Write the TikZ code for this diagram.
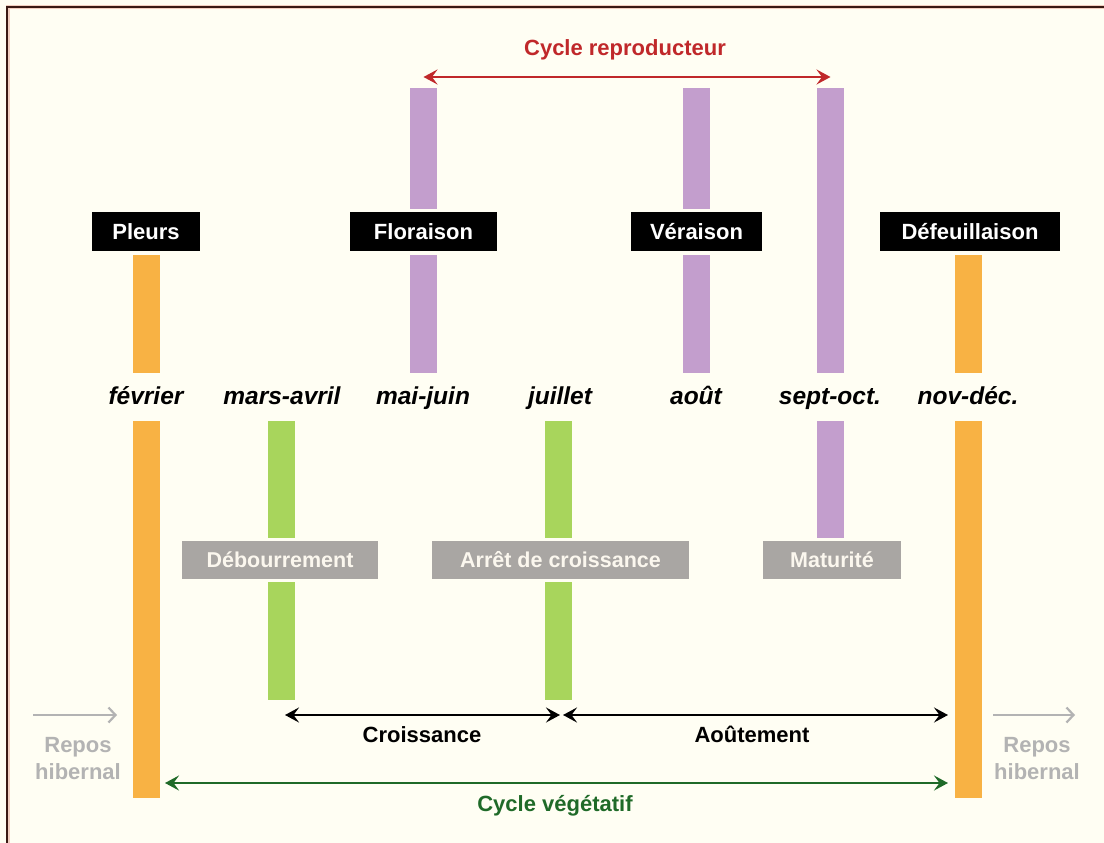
\documentclass[tikz,border=0pt]{standalone}
\usepackage{fontspec}
\setmainfont{Liberation Sans}
\usetikzlibrary{arrows.meta}
\definecolor{bg}{HTML}{FFFEF3}
\definecolor{framec}{HTML}{3A1A14}
\definecolor{frameh}{HTML}{F2CFC0}
\definecolor{orangec}{HTML}{F8B244}
\definecolor{purplec}{HTML}{C39ECD}
\definecolor{greenc}{HTML}{A8D55C}
\definecolor{grayboxc}{HTML}{A9A6A3}
\definecolor{grayboxt}{HTML}{FBF7EE}
\definecolor{redc}{HTML}{C0282A}
\definecolor{dgreenc}{HTML}{1F6A28}
\definecolor{grayt}{HTML}{B3B3B3}
\tikzset{
  bar/.style={inner sep=0pt, minimum width=27pt, anchor=north},
  blackbox/.style={fill=black, text=white, font=\bfseries\fontsize{22}{22}\selectfont,
    minimum height=39pt, inner sep=0pt, text height=16pt, text depth=0pt,
    preaction={draw=bg, line width=7pt}},
  graybox/.style={fill=grayboxc, text=grayboxt, font=\bfseries\fontsize{21.5}{21.5}\selectfont,
    minimum height=38pt, inner sep=0pt, text height=15.5pt, text depth=0pt,
    preaction={draw=bg, line width=6pt}},
  month/.style={font=\bfseries\itshape\fontsize{24.5}{24.5}\selectfont, anchor=base, inner sep=0pt},
  lab/.style={font=\bfseries\fontsize{22}{22}\selectfont, anchor=base, inner sep=0pt},
  dbl/.style={line width=2.4pt, {Stealth[length=14pt,width=15pt,inset=5.5pt]}-{Stealth[length=14pt,width=15pt,inset=5.5pt]}},
  grayarrow/.style={grayt, line width=2.2pt, -{Straight Barb[length=7pt,width=15pt,line width=2.2pt]}}
}
\begin{document}
\begin{tikzpicture}[x=1pt,y=-1pt]
\useasboundingbox (0,0) rectangle (1104,843);
\fill[bg] (0,0) rectangle (1104,843);
\draw[frameh, line width=4pt] (7.5,7.5) rectangle (1130,870);
\draw[framec, line width=1.6pt] (7,7) rectangle (1130,870);

% bars
\node[bar, fill=orangec, minimum height=118pt] (pleursU) at (146,255) {};
\node[bar, fill=orangec, minimum height=377pt] (pleursL) at (146,421) {};
\node[bar, fill=orangec, minimum height=118pt] (defU) at (968.5,255) {};
\node[bar, fill=orangec, minimum height=377pt] (defL) at (968.5,421) {};
\node[bar, fill=purplec, minimum height=285pt] (floB) at (423.5,88) {};
\node[bar, fill=purplec, minimum height=285pt] (verB) at (696.5,88) {};
\node[bar, fill=purplec, minimum height=285pt] (sepU) at (830.5,88) {};
\node[bar, fill=purplec, minimum height=125pt] (sepL) at (830.5,421) {};
\node[bar, fill=greenc, minimum height=279pt] (grn1) at (281.5,421) {};
\node[bar, fill=greenc, minimum height=279pt] (grn2) at (558.5,421) {};

% black boxes
\node[blackbox, minimum width=108pt] (pleurs) at (146,231.5) {Pleurs};
\node[blackbox, minimum width=147pt] (flo) at (423.5,231.5) {Floraison};
\node[blackbox, minimum width=131pt] (ver) at (696.5,231.5) {Véraison};
\node[blackbox, minimum width=180pt] (def) at (970,231.5) {Défeuillaison};

% gray boxes
\node[graybox, minimum width=196pt] (debo) at (280,560) {Débourrement};
\node[graybox, minimum width=257pt] (arret) at (560.5,560) {Arrêt de croissance};
\node[graybox, minimum width=138pt] (matu) at (832,560) {Maturité};

% months
\node[month] (m1) at (146,404) {février};
\node[month] (m2) at (282,404) {mars-avril};
\node[month] (m3) at (423,404) {mai-juin};
\node[month] (m4) at (560,404) {juillet};
\node[month] (m5) at (696,404) {août};
\node[month] (m6) at (830,404) {sept-oct.};
\node[month] (m7) at (968,404) {nov-déc.};

% cycle reproducteur
\node[lab, text=redc] (crl) at (625,56) {Cycle reproducteur};
\draw[redc, dbl] ([yshift=11pt]floB.north) -- ([yshift=11pt]sepU.north);

% croissance / aoutement
\coordinate (c1) at (285,715);
\coordinate (c2) at (560,715);
\coordinate (a1) at (563,715);
\coordinate (a2) at (948,715);
\draw[black, dbl] (c1) -- (c2);
\draw[black, dbl] (a1) -- (a2);
\node[lab] (crois) at (422,742) {Croissance};
\node[lab] (aout) at (752,742) {Aoûtement};

% cycle vegetatif
\coordinate (v1) at (165,783);
\coordinate (v2) at (948,783);
\draw[dgreenc, dbl] (v1) -- (v2);
\node[lab, text=dgreenc] (cv) at (555,811) {Cycle végétatif};

% repos hibernal
\coordinate (r1a) at (33,715);
\coordinate (r1b) at (117,715);
\coordinate (r2a) at (993,715);
\coordinate (r2b) at (1075,715);
\draw[grayarrow] (r1a) -- (r1b);
\draw[grayarrow] (r2a) -- (r2b);
\node[lab, text=grayt] (rep1) at (78,752) {Repos};
\node[lab, text=grayt] (hib1) at (78,779) {hibernal};
\node[lab, text=grayt] (rep2) at (1037,752) {Repos};
\node[lab, text=grayt] (hib2) at (1037,779) {hibernal};
\end{tikzpicture}
\end{document}
